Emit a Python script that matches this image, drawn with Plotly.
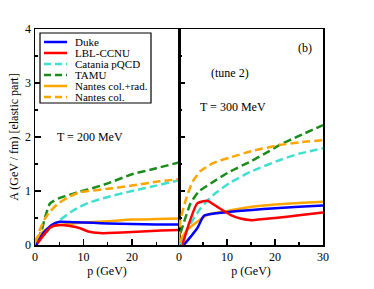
import plotly.graph_objects as go

names = ["Duke", "LBL-CCNU", "Catania pQCD", "TAMU", "Nantes col.+rad.", "Nantes col."]
colors = ["#0000ff", "#ff0000", "#40e0d0", "#1a8c1a", "#ffa500", "#ffa500"]
dashes = ["solid", "solid", "8px,4px", "8px,4px", "solid", "8px,4px"]

# Left panel, T = 200 MeV
L_duke_p = [0.3, 1.7, 3.4, 5.1, 8, 12, 15, 20, 25, 29.7]
L_duke_A = [0.0, 0.22, 0.37, 0.43, 0.42, 0.41, 0.40, 0.39, 0.38, 0.38]
L_lbl_p = [0.5, 2.1, 3.4, 5.1, 7.2, 9.3, 11, 13.4, 15.1, 18, 22, 26, 29.7]
L_lbl_A = [0.03, 0.22, 0.34, 0.37, 0.35, 0.31, 0.25, 0.22, 0.22, 0.23, 0.25, 0.27, 0.28]
L_cat_p = [0, 1, 2, 3.1, 5.1, 7.9, 9.3, 11, 15, 20, 25, 29.7]
L_cat_A = [0.0, 0.09, 0.2, 0.30, 0.46, 0.64, 0.71, 0.78, 0.89, 1.0, 1.1, 1.2]
L_tamu_p = [0.5, 1.4, 2.1, 3.1, 4.8, 7.2, 9.3, 11, 15, 20, 25, 29.7]
L_tamu_A = [0.09, 0.28, 0.52, 0.77, 0.86, 0.93, 0.99, 1.03, 1.14, 1.31, 1.42, 1.53]
L_nrad_p = [0, 0.3, 1.7, 3.4, 5.1, 7.2, 9.3, 15, 20, 25, 29.7]
L_nrad_A = [0.08, 0.12, 0.25, 0.34, 0.37, 0.39, 0.41, 0.44, 0.47, 0.48, 0.49]
L_ncol_p = [0, 0.3, 1, 2, 3.1, 4.8, 7.2, 9.3, 11, 15, 20, 25, 29.7]
L_ncol_A = [0.05, 0.09, 0.28, 0.48, 0.62, 0.77, 0.90, 0.98, 1.0, 1.04, 1.1, 1.17, 1.22]

# Right panel, T = 300 MeV
R_duke_p = [1.0, 2.4, 3.8, 5.2, 7.9, 15.2, 20, 25, 30]
R_duke_A = [0.0, 0.15, 0.31, 0.54, 0.59, 0.65, 0.68, 0.71, 0.73]
R_lbl_p = [0.7, 2.1, 3.8, 5.9, 7.9, 10.7, 12.8, 15.2, 20, 25, 30]
R_lbl_A = [0.0, 0.40, 0.77, 0.82, 0.71, 0.56, 0.49, 0.46, 0.50, 0.55, 0.60]
R_cat_p = [0, 1, 2, 3, 4.5, 7.2, 10.6, 15, 20.9, 25, 30]
R_cat_A = [0.0, 0.15, 0.33, 0.48, 0.68, 0.93, 1.15, 1.36, 1.57, 1.69, 1.79]
R_tamu_p = [0.3, 1.4, 2.4, 4.1, 6.6, 10.6, 15.2, 18.8, 20.9, 25, 30]
R_tamu_A = [0.22, 0.52, 0.77, 0.99, 1.14, 1.36, 1.56, 1.74, 1.85, 2.02, 2.22]
R_nrad_p = [0, 0.3, 1.7, 3.8, 5.9, 9.3, 15.2, 20, 25, 30]
R_nrad_A = [0.05, 0.09, 0.28, 0.43, 0.56, 0.62, 0.71, 0.75, 0.78, 0.80]
R_ncol_p = [0, 0.3, 1.4, 2.8, 4.5, 7.2, 10.6, 15.2, 20.9, 25, 30]
R_ncol_A = [0.1, 0.46, 0.83, 1.17, 1.37, 1.52, 1.62, 1.74, 1.85, 1.9, 1.94]

left = [(L_duke_p, L_duke_A), (L_lbl_p, L_lbl_A), (L_cat_p, L_cat_A),
        (L_tamu_p, L_tamu_A), (L_nrad_p, L_nrad_A), (L_ncol_p, L_ncol_A)]
right = [(R_duke_p, R_duke_A), (R_lbl_p, R_lbl_A), (R_cat_p, R_cat_A),
         (R_tamu_p, R_tamu_A), (R_nrad_p, R_nrad_A), (R_ncol_p, R_ncol_A)]

FONT = "Liberation Serif"
fig = go.Figure()
order = [2, 3, 5, 4, 0, 1]
for i in order:
    for data, xa, ya in ((left, "x", "y"), (right, "x2", "y2")):
        p, a = data[i]
        fig.add_trace(go.Scatter(x=p, y=a, mode="lines", xaxis=xa, yaxis=ya,
                                 line=dict(color=colors[i], width=2.5, dash=dashes[i], shape="spline", smoothing=0.5),
                                 showlegend=False, hoverinfo="skip"))

def axis_common():
    return dict(showline=True, linecolor="black", linewidth=1.5, mirror=True,
                ticks="inside", ticklen=6, tickwidth=1.2, tickcolor="black",
                showgrid=False, zeroline=False, automargin=False,
                tickfont=dict(family=FONT, size=12, color="black"))

title_font = dict(family=FONT, size=12, color="black")
fig.update_layout(
    width=374, height=289,
    margin=dict(l=35, r=51, t=29, b=44),
    paper_bgcolor="white", plot_bgcolor="white",
    showlegend=False,
    xaxis=dict(domain=[0, 0.5], range=[0, 29.7], dtick=10, tick0=0, anchor="y",
               minor=dict(ticks="inside", dtick=5, ticklen=3, tickcolor="black"),
               title=dict(text="p (GeV)", font=title_font, standoff=2),
               **axis_common()),
    xaxis2=dict(domain=[0.5, 1], range=[0, 30], dtick=10, tick0=0, anchor="y2",
                minor=dict(ticks="inside", dtick=5, ticklen=3, tickcolor="black"),
                title=dict(text="p (GeV)", font=title_font, standoff=2),
                **axis_common()),
    yaxis=dict(domain=[0, 1], range=[0, 4], dtick=1, anchor="x",
               minor=dict(ticks="inside", dtick=0.5, ticklen=3, tickcolor="black"),
               title=dict(text="A (GeV / fm) [elastic part]", font=title_font, standoff=4),
               **axis_common()),
    yaxis2=dict(domain=[0, 1], range=[0, 4], dtick=1, anchor="x2", showticklabels=False,
                minor=dict(ticks="inside", dtick=0.5, ticklen=3, tickcolor="black"),
                **axis_common()),
)

def px2p(x, y):
    return (x - 35) / 288, (245 - y) / 216

anns = [
    ("T = 200 MeV", 90, 137),
    ("(b)", 305, 48),
    ("(tune 2)", 230, 73),
    ("T = 300 MeV", 233, 107),
]
for t, ax_, ay_ in anns:
    xx, yy = px2p(ax_, ay_)
    fig.add_annotation(text=t, x=xx, y=yy, xref="paper", yref="paper", showarrow=False,
                       xanchor="center", yanchor="middle",
                       font=dict(family=FONT, size=12, color="black"))

# legend box (drawn manually)
x0, y0 = px2p(40, 33)
x1, y1 = px2p(151, 103)
fig.add_shape(type="rect", xref="paper", yref="paper", x0=x0, y0=y1, x1=x1, y1=y0,
              line=dict(color="black", width=1.2), fillcolor="white", layer="above")
for k, nm in enumerate(names):
    yy = 42 + 11 * k
    lx0, ly = px2p(44, yy)
    lx1, _ = px2p(67, yy)
    fig.add_shape(type="line", xref="paper", yref="paper", x0=lx0, x1=lx1, y0=ly, y1=ly,
                  line=dict(color=colors[k], width=2.5, dash="solid" if dashes[k] == "solid" else "7px,4px"),
                  layer="above")
    tx, ty = px2p(73, yy)
    fig.add_annotation(text=nm, x=tx, y=ty, xref="paper", yref="paper", xanchor="left",
                       yanchor="middle", showarrow=False,
                       font=dict(family=FONT, size=11, color="black"))

fig.write_html("out.html", config={"displayModeBar": False, "staticPlot": True},
               post_script="document.body.style.margin='0';")
